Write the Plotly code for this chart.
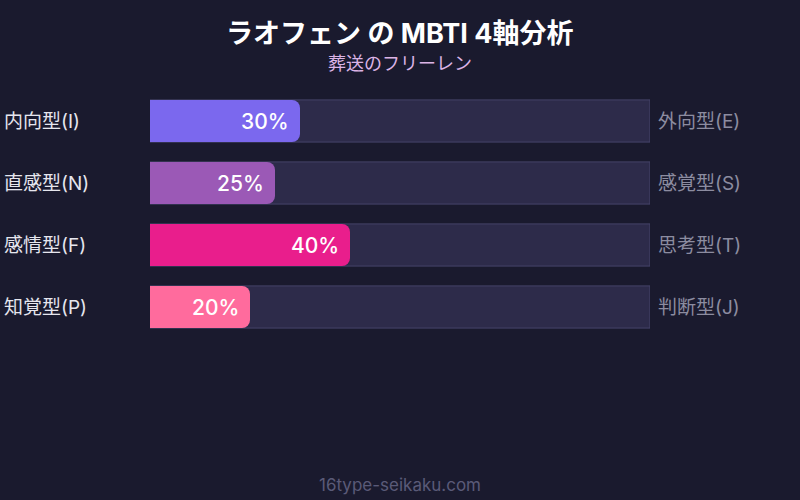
import plotly.graph_objects as go

# データ
left_labels = ["内向型(I)", "直感型(N)", "感情型(F)", "知覚型(P)"]
right_labels = ["外向型(E)", "感覚型(S)", "思考型(T)", "判断型(J)"]
values = [30, 25, 40, 20]
title_text = "ラオフェン の MBTI 4軸分析"
subtitle_text = "葬送のフリーレン"
footer_text = "16type-seikaku.com"

# スタイル
bar_colors = ["#7B68EE", "#9B59B6", "#E91E8C", "#FF6B9D"]
bg = "#1a1a2e"
track = "#2d2b4a"
font_family = "Inter, Noto Sans CJK JP, sans-serif"

rows = list(range(len(values)))

fig = go.Figure()

# 背景トラック
fig.add_trace(go.Bar(
    x=[100] * len(values), y=rows, orientation="h",
    marker=dict(color=track, line=dict(color="#46446a", width=1), cornerradius=0),
    width=0.68, hoverinfo="skip", showlegend=False,
))

# 値バー（上に重ねる別軸に置いて角丸を効かせる）
fig.add_trace(go.Bar(
    x=values, y=rows, orientation="h", xaxis="x2",
    marker=dict(color=bar_colors, line=dict(width=0), cornerradius=8),
    width=0.68, showlegend=False,
))

# バー内の値ラベル
for i, v in enumerate(values):
    fig.add_annotation(x=v, y=i, xref="x", yref="y", text=f"{v}%",
                       xanchor="right", xshift=-9, showarrow=False,
                       font=dict(size=21, color="white", family=font_family, weight=500))

for i, (l, r) in enumerate(zip(left_labels, right_labels)):
    fig.add_annotation(x=-0.296, y=i, xref="paper", yref="y", text=l,
                       xanchor="left", showarrow=False,
                       font=dict(size=19, color="#e6e6ee", family=font_family))
    fig.add_annotation(x=1.012, y=i, xref="paper", yref="y", text=r,
                       xanchor="left", showarrow=False,
                       font=dict(size=19, color="#8c8ca0", family=font_family))

# タイトル・サブタイトル・フッター（ピクセル位置をpaper座標に変換）
H, T, B = 500, 90, 162
ph = H - T - B
def py(pix):
    return (H - B - pix) / ph

fig.add_annotation(x=0.5, y=py(33), xref="paper", yref="paper", text=f"<b>{title_text}</b>",
                   showarrow=False, yanchor="middle",
                   font=dict(size=27, color="white", family=font_family))
fig.add_annotation(x=0.5, y=py(63), xref="paper", yref="paper", text=subtitle_text,
                   showarrow=False, yanchor="middle",
                   font=dict(size=18, color="#dcb4e6", family=font_family))
fig.add_annotation(x=0.5, y=py(485), xref="paper", yref="paper", text=footer_text,
                   showarrow=False, yanchor="middle",
                   font=dict(size=17, color="#5a5a78", family=font_family))

fig.update_layout(
    width=800, height=500,
    paper_bgcolor=bg, plot_bgcolor=bg,
    barmode="overlay",
    margin=dict(l=150, r=150, t=T, b=B),
    xaxis=dict(range=[0, 100], visible=False, fixedrange=True),
    xaxis2=dict(range=[0, 100], visible=False, fixedrange=True, overlaying="x"),
    yaxis=dict(range=[3.5, -0.5], visible=False, fixedrange=True),
)

fig.write_html("out.html", config={"displayModeBar": False},
               post_script="document.body.style.margin='0';")
